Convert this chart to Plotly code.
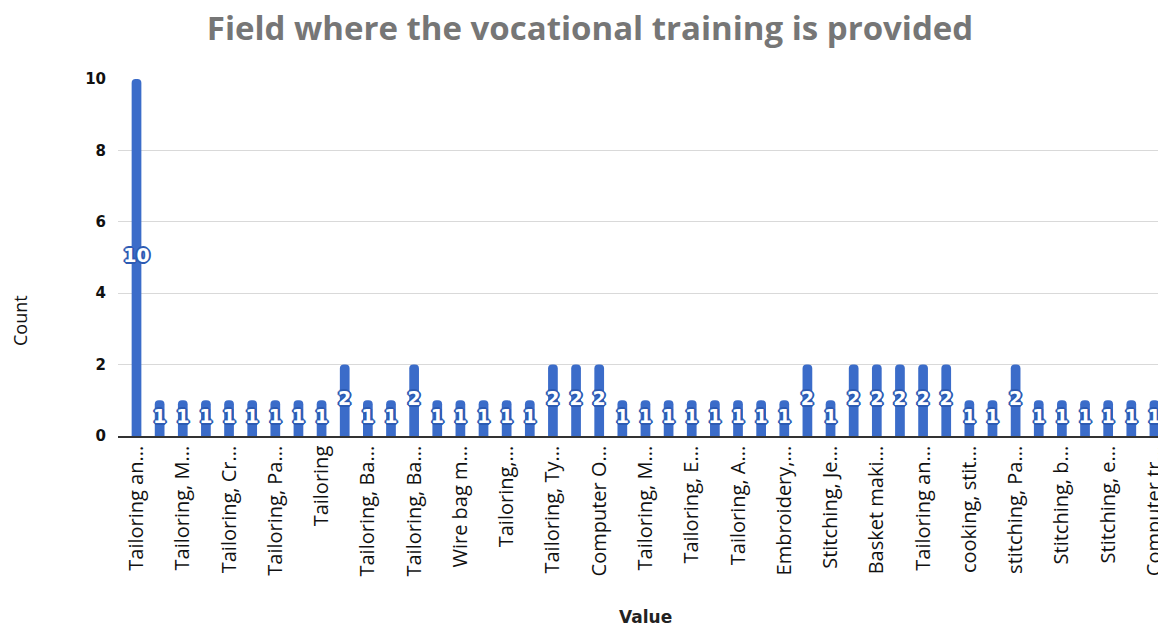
import plotly.graph_objects as go

# Shown tick labels (every second bar); hidden ones are placeholders
categories = [
    "Tailoring an...", "Tailoring, B...", "Tailoring, M...", "Tailoring, S...",
    "Tailoring, Cr...", "Tailoring, E...", "Tailoring, Pa...", "Tailoring, St...",
    "Tailoring", "Tailoring, Em...", "Tailoring, Ba...", "Tailoring, Co...",
    "Tailoring, Ba...", "Tailoring, Ma...", "Wire bag m...", "Tailoring, Ja...",
    "Tailoring,...", "Tailoring, Ku...", "Tailoring, Ty...", "Tailoring, Be...",
    "Computer O...", "Tailoring, Ha...", "Tailoring, M...", "Tailoring, Ca...",
    "Tailoring, E...", "Tailoring, Ka...", "Tailoring, A...", "Tailoring, Ne...",
    "Embroidery,...", "Stitching, Em...", "Stitching, Je...", "Stitching, Ba...",
    "Basket maki...", "Stitching, Ta...", "Tailoring an...", "Beauty parl...",
    "cooking, stit...", "Stitching, Ma...", "stitching, Pa...", "Stitching, Co...",
    "Stitching, b...", "Stitching, Ca...", "Stitching, e...", "Stitching, Ha...",
    "Computer tr...",
]
counts = [
    10, 1, 1, 1, 1, 1, 1, 1, 1, 2,
    1, 1, 2, 1, 1, 1, 1, 1, 2, 2,
    2, 1, 1, 1, 1, 1, 1, 1, 1, 2,
    1, 2, 2, 2, 2, 2, 1, 1, 2, 1,
    1, 1, 1, 1, 1,
]

positions = list(range(len(categories)))
tick_positions = positions[::2]
tick_labels = categories[::2]

BLUE = "#3b6cc9"
OUTLINE = "#2d5bb3"
shadow = ", ".join(
    f"{dx}px {dy}px 0 {OUTLINE}"
    for dx, dy in [(1, 1), (-1, -1), (1, -1), (-1, 1), (0, 1), (0, -1), (1, 0), (-1, 0),
                   (2, 0), (-2, 0), (0, 2), (0, -2)]
)

# page body has an 8px margin, so the figure is made 8px smaller
W, H = 1158, 619
ML, MR, MT, MB = 110, 0, 71, 191
PW, PH = W - ML - MR, H - MT - MB

fig = go.Figure()
fig.add_trace(go.Bar(
    x=positions, y=counts,
    marker=dict(color=BLUE, line=dict(width=0)),
    width=0.42,
    hoverinfo="x+y",
    showlegend=False,
))
fig.add_trace(go.Scatter(
    x=positions, y=[c / 2 for c in counts],
    mode="text",
    text=[str(c) for c in counts],
    textposition="middle center",
    textfont=dict(family="DejaVu Sans", size=19, color="white", weight="bold",
                  shadow=shadow),
    hoverinfo="skip",
    showlegend=False,
    cliponaxis=False,
))

fig.update_layout(
    width=W, height=H,
    margin=dict(l=ML, r=MR, t=MT, b=MB, autoexpand=False),
    paper_bgcolor="white", plot_bgcolor="white",
    barcornerradius=5,
    title=dict(
        text="Field where the vocational training is provided",
        x=(590 - 8) / W, xanchor="center", y=1 - (28 - 8) / H, yanchor="middle",
        font=dict(family="Open Sans", size=33, color="#767676", weight="bold"),
    ),
    xaxis=dict(
        range=[-0.8, 44.5], automargin=False,
        tickmode="array", tickvals=tick_positions, ticktext=tick_labels,
        tickangle=-90, ticklabeloverflow="allow",
        tickfont=dict(family="Open Sans", size=20, color="#111111"),
        showgrid=False, zeroline=False,
        showline=True, linecolor="#333333", linewidth=1.5,
        ticks="", ticklabelstandoff=0,
    ),
    yaxis=dict(
        range=[0, 10], tickvals=[0, 2, 4, 6, 8, 10], automargin=False,
        tickfont=dict(family="DejaVu Sans", size=15, color="#111111", weight="bold"),
        showgrid=True, gridcolor="#d9d9d9", gridwidth=1,
        zeroline=False, showline=False, ticks="", ticklabelstandoff=11,
    ),
    annotations=[
        dict(text="Count", xref="paper", yref="paper",
             x=(20 - 118) / PW, y=(436 - 321) / PH,
             xanchor="center", yanchor="middle", textangle=-90, showarrow=False,
             font=dict(family="Open Sans", size=18, color="#111111")),
        dict(text="Value", xref="paper", yref="paper",
             x=(645 - 118) / PW, y=-(617 - 436) / PH,
             xanchor="center", yanchor="middle", showarrow=False,
             font=dict(family="DejaVu Sans", size=17, color="#222222", weight="bold")),
    ],
)

fig.write_html("out.html")
